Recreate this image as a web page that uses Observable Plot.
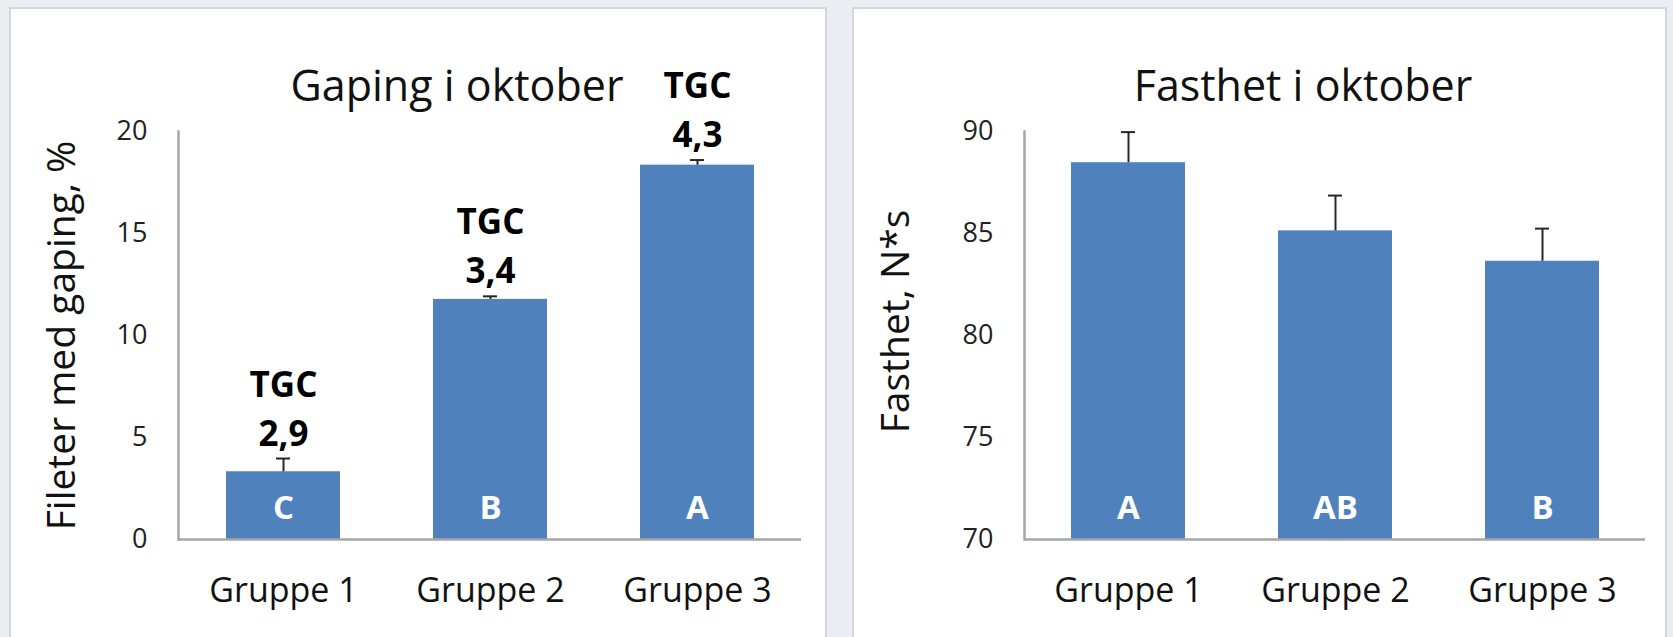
<!DOCTYPE html>
<html>
<head>
<meta charset="utf-8">
<script src="https://cdn.jsdelivr.net/npm/d3@7"></script>
<script src="https://cdn.jsdelivr.net/npm/@observablehq/plot@0.6"></script>
<style>
html, body { margin: 0; padding: 0; background: #eaeef2; }
#root { position: relative; width: 1673px; height: 637px; overflow: hidden; background: #eaeef2; font-family: 'Open Sans', sans-serif; }
.panel { position: absolute; top: 7px; height: 660px; background: #fff; border: 2px solid #d3d7db; box-sizing: border-box; }
.chart { position: absolute; top: 40px; }
</style>
</head>
<body>
<div id="root">
  <div class="panel" style="left:9px;width:818px"></div>
  <div class="panel" style="left:852px;width:815px"></div>
  <div class="chart" id="c1" style="left:9px"></div>
  <div class="chart" id="c2" style="left:852px"></div>
</div>
<script>
// ---- data ----
const groups = ["Gruppe 1", "Gruppe 2", "Gruppe 3"];

const gapingTitle = "Gaping i oktober";
const gapingLabel = "Fileter med gaping, %";
const gapingValues = [3.32, 11.77, 18.35];
const gapingErrors = [0.65, 0.15, 0.25];
const gapingLetters = ["C", "B", "A"];
const gapingTGC = ["2,9", "3,4", "4,3"];
const gapingTicks = [0, 5, 10, 15, 20];

const fastTitle = "Fasthet i oktober";
const fastLabel = "Fasthet, N*s";
const fastValues = [88.47, 85.13, 83.64];
const fastErrors = [1.5, 1.73, 1.6];
const fastLetters = ["A", "AB", "B"];
const fastTicks = [70, 75, 80, 85, 90];

// ---- styles ----
const BAR = "#4f81bd";
const AXIS = "#a6a6a6";
const ERR = "#262626";
const FONT = "'Open Sans', Lato, sans-serif";

function makeRows(values, errors, letters, extra) {
  return groups.map((g, i) => ({group: g, value: values[i], err: errors[i], letter: letters[i], tgc: extra ? extra[i] : null}));
}

function chart({rows, ticks, title, ylabel, width, marginLeft, marginRight, titleDx, labelDx, labelDy, extraMarks}) {
  const base = ticks[0];
  return Plot.plot({
    width,
    height: 597,
    marginLeft,
    marginRight,
    marginTop: 91,
    marginBottom: 98,
    style: {fontFamily: FONT, background: "transparent", overflow: "visible", color: "#111"},
    x: {domain: groups, paddingInner: 0.45, paddingOuter: 0.225, label: null},
    y: {domain: [ticks[0], ticks[ticks.length - 1]], label: null},
    marks: [
      Plot.barY(rows, {x: "group", y1: base, y2: "value", fill: BAR}),
      Plot.ruleX(rows, {x: "group", y1: "value", y2: d => d.value + d.err, stroke: ERR, strokeWidth: 2}),
      Plot.tickY(rows, {x: "group", y: d => d.value + d.err, stroke: ERR, strokeWidth: 2, insetLeft: 50, insetRight: 50}),
      Plot.ruleY([base], {stroke: AXIS, strokeWidth: 2.5}),
      Plot.frame({anchor: "left", stroke: AXIS, strokeWidth: 2.5}),
      Plot.axisY({ticks, tickSize: 0, tickPadding: 31, fontSize: 27, color: "#222", label: null}),
      Plot.axisX({tickSize: 0, tickPadding: 38, fontSize: 34, color: "#111", label: null}),
      Plot.text(rows, {x: "group", frameAnchor: "bottom", text: "letter", fill: "white", fontWeight: "bold", fontSize: 33, lineAnchor: "bottom", dy: -21}),
      Plot.text([title], {frameAnchor: "top", textAnchor: "middle", lineAnchor: "bottom", dx: titleDx, dy: -31, fontSize: 43, fill: "#111"}),
      Plot.text([ylabel], {frameAnchor: "left", textAnchor: "middle", lineAnchor: "middle", rotate: -90, dx: labelDx, dy: labelDy, fontSize: 39, fill: "#111"}),
      ...(extraMarks || [])
    ]
  });
}

const gapingRows = makeRows(gapingValues, gapingErrors, gapingLetters, gapingTGC);
const fastRows = makeRows(fastValues, fastErrors, fastLetters);

document.getElementById("c1").append(chart({
  rows: gapingRows, ticks: gapingTicks, title: gapingTitle, ylabel: gapingLabel,
  width: 818, marginLeft: 169, marginRight: 26, titleDx: -33, labelDx: -116, labelDy: 0,
  extraMarks: [
    Plot.text(gapingRows, {x: "group", y: d => d.value + d.err, text: d => "TGC\n" + d.tgc, lineAnchor: "bottom", lineHeight: 1.4, dy: -13, fontWeight: "bold", fontSize: 35, fill: "#000"})
  ]
}));

document.getElementById("c2").append(chart({
  rows: fastRows, ticks: fastTicks, title: fastTitle, ylabel: fastLabel,
  width: 815, marginLeft: 172, marginRight: 22, titleDx: -32, labelDx: -128, labelDy: -14
}));
</script>
</body>
</html>
